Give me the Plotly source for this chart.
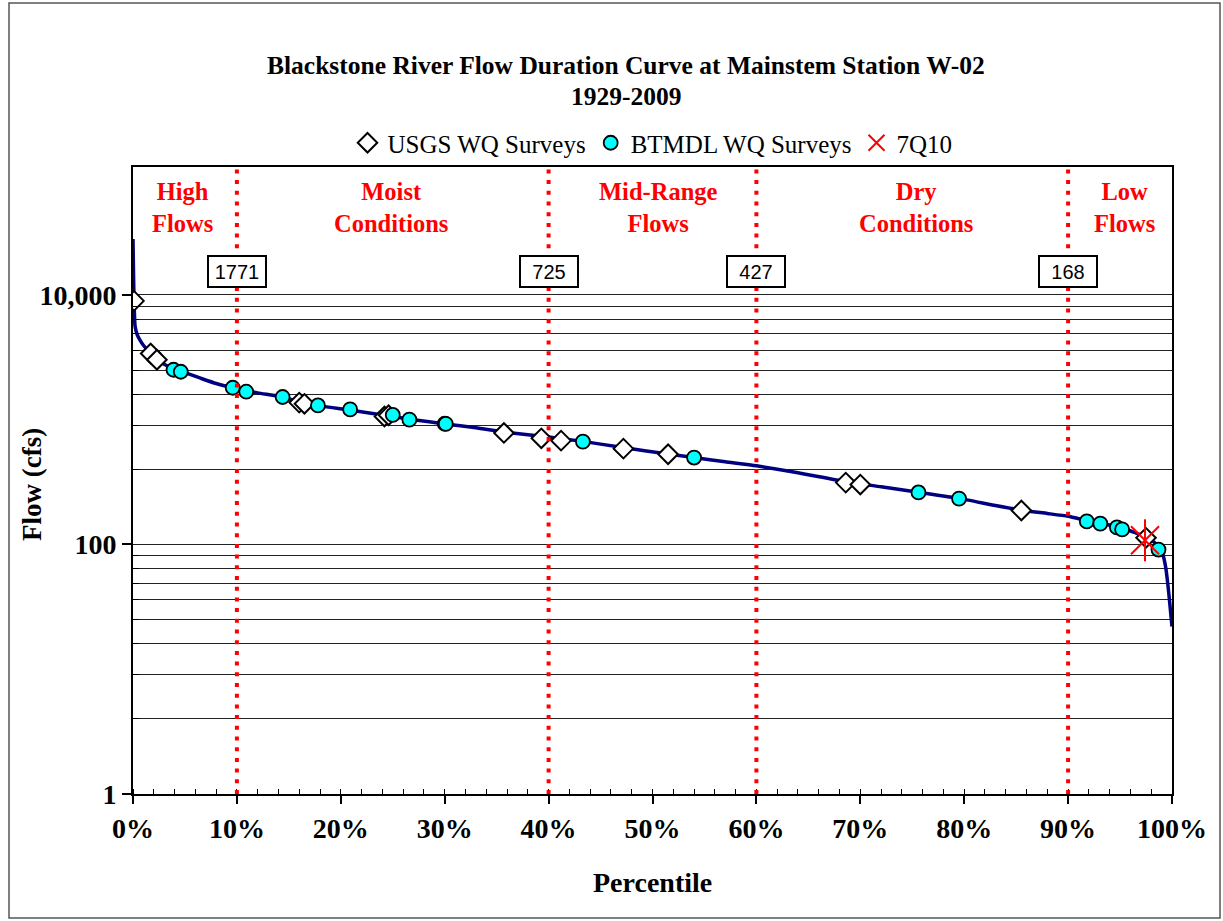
import plotly.graph_objects as go

# ---- data ----
curve_pct = [0, 0.05, 0.1, 0.2, 0.4, 0.7, 1.0, 1.7, 2.3, 3.0, 4.0, 5.0, 6.5, 8.0, 10, 12, 14.4, 16, 18, 21,
             24.5, 27, 30, 33, 36, 40, 43.3, 47, 51.5, 54, 57, 60, 64, 68.6, 72, 75.6, 79.5, 83, 85.5, 88,
             90, 92, 93.5, 95, 96.5, 97.5, 98.3, 98.8, 99.1, 99.4, 99.7, 100]
curve_flow = [28000, 15000, 9000, 5600, 4800, 4300, 3950, 3380, 3030, 2780, 2530, 2380, 2150, 1950, 1771, 1640,
              1520, 1390, 1290, 1190, 1075, 1000, 925, 860, 790, 725, 670, 600, 530, 497, 460, 427, 375, 318,
              290, 262, 234, 205, 188, 177, 168, 154, 146, 136, 124, 114, 104, 94, 84, 65, 40, 22]

usgs_pct = [0.1, 1.7, 2.3, 16.0, 16.5, 24.2, 24.6, 35.7, 39.3, 41.2, 47.2, 51.5, 68.6, 70.0, 85.5, 97.5]
usgs_flow = [8950, 3390, 3020, 1370, 1340, 1060, 1085, 783, 709, 679, 586, 528, 313, 302, 187, 113]

btmdl_pct = [3.9, 4.6, 9.6, 10.9, 14.4, 17.8, 20.9, 25.0, 26.6, 30.0, 30.1, 43.3, 54.0, 75.6, 79.5,
             91.8, 93.1, 94.7, 95.2, 98.7]
btmdl_flow = [2512, 2421, 1803, 1675, 1520, 1300, 1208, 1091, 1000, 928, 925, 667, 497, 261, 233,
              153, 147, 137, 132, 91]

q7q10_pct = [97.4]
q7q10_flow = [108]

zone_pct = [10, 40, 60, 90]
zone_flow_labels = ["1771", "725", "427", "168"]
zone_names = ["High<br>Flows", "Moist<br>Conditions", "Mid-Range<br>Flows", "Dry<br>Conditions", "Low<br>Flows"]
zone_name_pct = [4.8, 24.8, 50.6, 75.4, 95.4]

y_major = [1, 100, 10000]
y_major_text = ["1", "100", "10,000"]
y_minor = [4, 9, 16, 25, 36, 49, 64, 81, 400, 900, 1600, 2500, 3600, 4900, 6400, 8100]

SERIF = "Liberation Serif"
SANS = "Liberation Sans"

fig = go.Figure()

fig.add_trace(go.Scatter(x=curve_pct, y=curve_flow, mode="lines",
                         line=dict(color="#000080", width=3.5, shape="spline", smoothing=0.5),
                         showlegend=False, hoverinfo="skip"))
fig.add_trace(go.Scatter(x=usgs_pct, y=usgs_flow, mode="markers", name="USGS WQ Surveys",
                         marker=dict(symbol="diamond", size=15, color="white",
                                     line=dict(color="black", width=2))))
fig.add_trace(go.Scatter(x=btmdl_pct, y=btmdl_flow, mode="markers", name="BTMDL WQ Surveys",
                         marker=dict(symbol="circle", size=14, color="#00FFFF",
                                     line=dict(color="black", width=1.8))))
fig.add_trace(go.Scatter(x=q7q10_pct, y=q7q10_flow, mode="markers", name="7Q10",
                         marker=dict(symbol="x-thin-open", size=28, color="red",
                                     line=dict(color="red", width=2))))
fig.add_trace(go.Scatter(x=q7q10_pct, y=q7q10_flow, mode="markers", showlegend=False,
                         marker=dict(symbol="line-ns-open", size=30, color="red",
                                     line=dict(color="red", width=2))))

shapes = []
for p in zone_pct:
    shapes.append(dict(type="line", xref="x", yref="paper", x0=p, x1=p, y0=0, y1=1,
                       line=dict(color="red", width=4, dash="4px,6.7px"), layer="above"))
# outer chart border
shapes.append(dict(type="rect", xref="paper", yref="paper",
                   x0=(9 - 133) / 1039, x1=(1220 - 133) / 1039,
                   y0=(794 - 918) / 627, y1=(794 - 3) / 627,
                   line=dict(color="#555555", width=1.5), fillcolor="rgba(0,0,0,0)", layer="below"))

annotations = []
for name, p in zip(zone_names, zone_name_pct):
    annotations.append(dict(x=p, xref="x", y=(794 - 208) / 627, yref="paper", text="<b>" + name + "</b>",
                            showarrow=False, font=dict(family=SERIF, size=24.5, color="red"),
                            xanchor="center", yanchor="middle"))
for p, t in zip(zone_pct, zone_flow_labels):
    annotations.append(dict(x=p, xref="x", y=(794 - 271) / 627, yref="paper", text=t,
                            showarrow=False, font=dict(family=SANS, size=20, color="black"),
                            bgcolor="white", bordercolor="black", borderwidth=2,
                            width=54, height=27, xanchor="center", yanchor="middle"))
# title lines
annotations.append(dict(x=(626 - 133) / 1039, xref="paper", y=(794 - 65) / 627, yref="paper",
                        text="<b>Blackstone River Flow Duration Curve at Mainstem Station W-02</b>",
                        showarrow=False, font=dict(family=SERIF, size=25.5, color="black"),
                        xanchor="center", yanchor="middle"))
annotations.append(dict(x=(626 - 133) / 1039, xref="paper", y=(794 - 97) / 627, yref="paper",
                        text="<b>1929-2009</b>",
                        showarrow=False, font=dict(family=SERIF, size=25.5, color="black"),
                        xanchor="center", yanchor="middle"))
# axis titles
annotations.append(dict(x=(32 - 133) / 1039, xref="paper", y=(794 - 485) / 627, yref="paper",
                        text="<b>Flow (cfs)</b>", textangle=-90, showarrow=False,
                        font=dict(family=SERIF, size=27, color="black"),
                        xanchor="center", yanchor="middle"))
annotations.append(dict(x=0.5, xref="paper", y=(794 - 882) / 627, yref="paper",
                        text="<b>Percentile</b>", showarrow=False,
                        font=dict(family=SERIF, size=28, color="black"),
                        xanchor="center", yanchor="middle"))

fig.update_layout(
    width=1223, height=921,
    margin=dict(l=133, r=51, t=167, b=127),
    paper_bgcolor="white", plot_bgcolor="white",
    shapes=shapes, annotations=annotations,
    legend=dict(orientation="h", x=0.5, xanchor="center", y=(794 - 143) / 627, yanchor="middle",
                font=dict(family=SERIF, size=25, color="black"), bgcolor="rgba(0,0,0,0)",
                itemwidth=30),
    xaxis=dict(range=[0, 100], tickvals=[0, 10, 20, 30, 40, 50, 60, 70, 80, 90, 100],
               ticktext=["<b>%d%%</b>" % v for v in range(0, 101, 10)],
               ticks="outside", ticklen=8, tickwidth=1.5, tickcolor="black",
               minor=dict(dtick=2, ticks="inside", ticklen=5, tickwidth=1, tickcolor="black", showgrid=False),
               showgrid=False, zeroline=False, showline=True, linecolor="black", linewidth=2, mirror=True,
               tickfont=dict(family=SERIF, size=28, color="black")),
    yaxis=dict(type="log", range=[0, 5.025], tickmode="array", tickvals=y_major,
               ticktext=["<b>" + t + "</b>" for t in y_major_text],
               ticks="outside", ticklen=9, tickwidth=1.5, tickcolor="black",
               showgrid=True, gridcolor="#222222", gridwidth=1,
               minor=dict(tickmode="array", tickvals=y_minor, ticks="inside", ticklen=6,
                          tickcolor="black", tickwidth=1, showgrid=True, gridcolor="#222222", gridwidth=1),
               zeroline=False, showline=True, linecolor="black", linewidth=2, mirror=True,
               tickfont=dict(family=SERIF, size=28, color="black")),
)

fig.write_html("out.html")
